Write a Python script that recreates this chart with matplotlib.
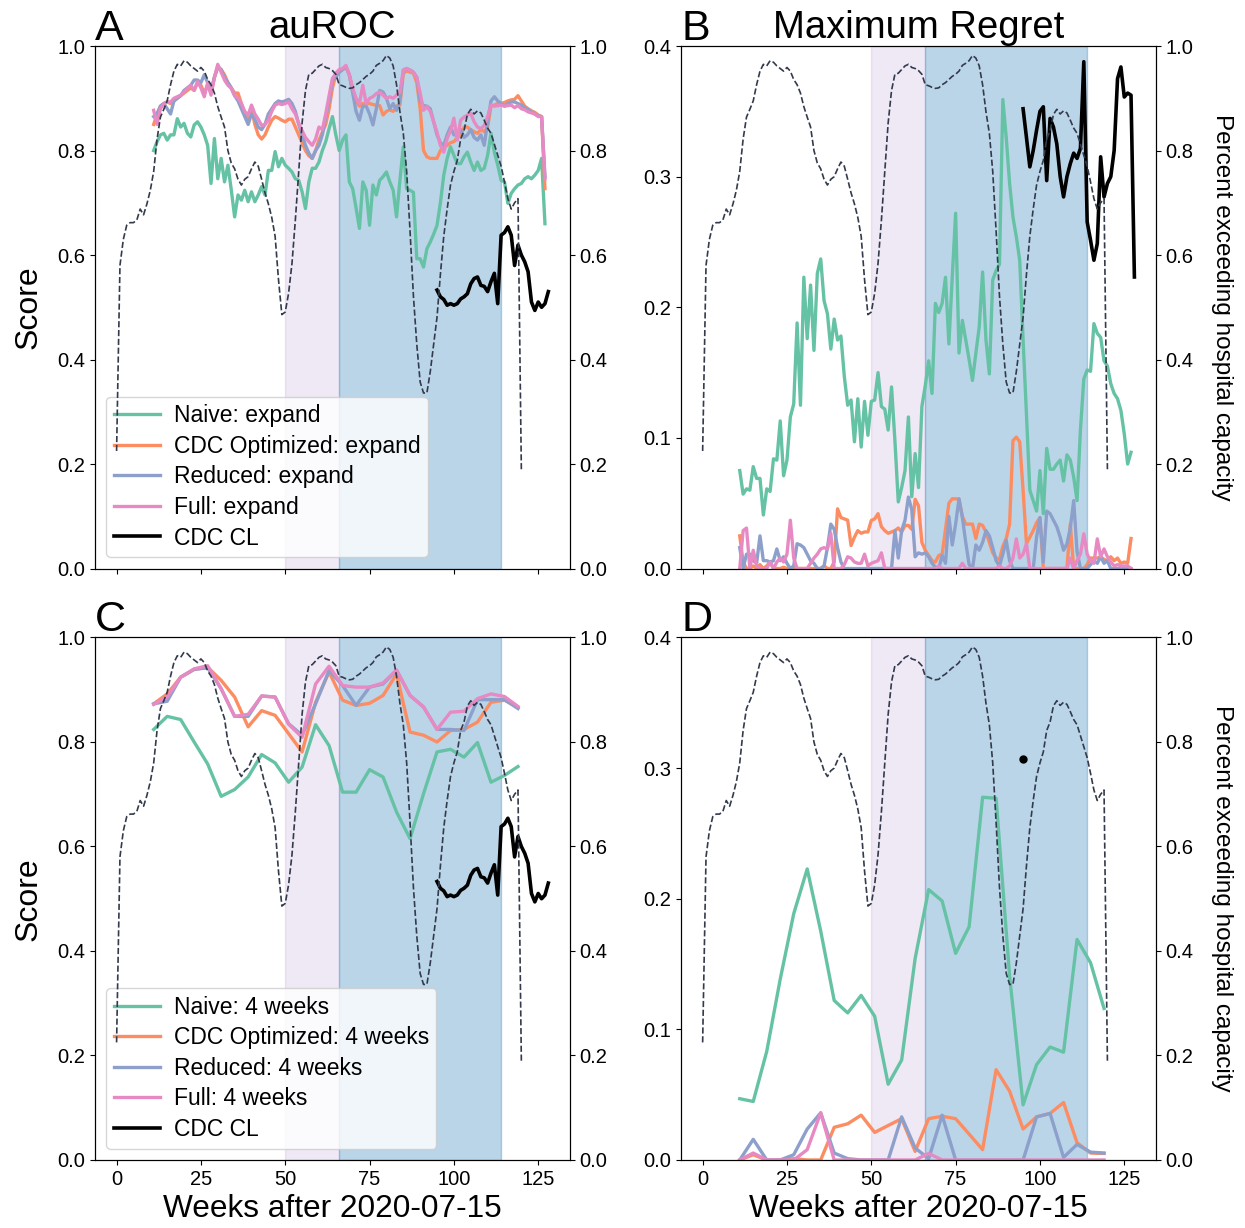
import matplotlib
matplotlib.use("Agg")
import matplotlib.pyplot as plt

plt.rcParams['font.family'] = ['Liberation Sans', 'DejaVu Sans']

# weeks after 2020-07-15
weeks_cap = list(range(0, 121))
weeks_expand = list(range(11, 128))
weeks_4wk = list(range(11, 120, 4))
weeks_cl = list(range(95, 129))

# fraction of places exceeding hospital capacity (right axis, same in all panels)
hosp_cap = [0.225, 0.58, 0.63, 0.657, 0.662, 0.662, 0.667, 0.688, 0.677, 0.698,
            0.724, 0.76, 0.822, 0.864, 0.879, 0.895, 0.926, 0.952, 0.965, 0.962,
            0.972, 0.969, 0.962, 0.957, 0.952, 0.959, 0.952, 0.936, 0.926, 0.91,
            0.884, 0.864, 0.845, 0.80, 0.776, 0.765, 0.745, 0.734, 0.745, 0.75,
            0.765, 0.778, 0.77, 0.745, 0.719, 0.698, 0.672, 0.636, 0.553, 0.486,
            0.491, 0.527, 0.584, 0.667, 0.76, 0.853, 0.915, 0.946, 0.948, 0.955,
            0.962, 0.965, 0.959, 0.957, 0.953, 0.946, 0.926, 0.924, 0.921, 0.919,
            0.92, 0.926, 0.93, 0.936, 0.942, 0.946, 0.952, 0.963, 0.967, 0.972,
            0.982, 0.977, 0.962, 0.926, 0.874, 0.833, 0.76, 0.646, 0.522, 0.429,
            0.357, 0.336, 0.336, 0.377, 0.429, 0.481, 0.563, 0.636, 0.688, 0.734,
            0.76, 0.781, 0.822, 0.838, 0.869, 0.879, 0.87, 0.876, 0.872, 0.858,
            0.843, 0.833, 0.812, 0.791, 0.77, 0.74, 0.708, 0.688, 0.70, 0.708,
            0.19]

# panel A: auROC, expanding window
naive_auroc_exp = [0.80, 0.817, 0.83, 0.833, 0.82, 0.83, 0.83, 0.861, 0.845, 0.852,
                   0.833, 0.826, 0.849, 0.855, 0.845, 0.83, 0.81, 0.737, 0.823, 0.746,
                   0.785, 0.74, 0.772, 0.725, 0.673, 0.715, 0.705, 0.724, 0.702, 0.721,
                   0.702, 0.715, 0.731, 0.715, 0.762, 0.762, 0.798, 0.769, 0.785, 0.772,
                   0.766, 0.759, 0.746, 0.743, 0.721, 0.689, 0.74, 0.766, 0.766, 0.778,
                   0.80, 0.817, 0.842, 0.865, 0.83, 0.80, 0.82, 0.83, 0.74, 0.727,
                   0.69, 0.651, 0.74, 0.724, 0.657, 0.734, 0.715, 0.743, 0.75, 0.759,
                   0.74, 0.724, 0.673, 0.743, 0.807, 0.727, 0.724, 0.72, 0.593, 0.593,
                   0.577, 0.612, 0.625, 0.64, 0.657, 0.70, 0.753, 0.785, 0.807, 0.791,
                   0.775, 0.775, 0.788, 0.797, 0.778, 0.762, 0.778, 0.762, 0.766, 0.791,
                   0.833, 0.797, 0.772, 0.743, 0.74, 0.699, 0.718, 0.727, 0.734, 0.737,
                   0.746, 0.75, 0.746, 0.753, 0.762, 0.785, 0.66]
cdcopt_auroc_exp = [0.85, 0.87, 0.885, 0.89, 0.893, 0.89, 0.895, 0.90, 0.905, 0.91,
                    0.915, 0.92, 0.915, 0.93, 0.925, 0.91, 0.925, 0.91, 0.94, 0.96,
                    0.955, 0.945, 0.93, 0.92, 0.91, 0.91, 0.89, 0.87, 0.86, 0.88,
                    0.85, 0.83, 0.822, 0.83, 0.845, 0.858, 0.865, 0.862, 0.858, 0.855,
                    0.86, 0.86, 0.845, 0.83, 0.815, 0.80, 0.79, 0.785, 0.80, 0.82,
                    0.835, 0.85, 0.88, 0.92, 0.945, 0.95, 0.955, 0.96, 0.945, 0.915,
                    0.895, 0.885, 0.89, 0.89, 0.89, 0.888, 0.887, 0.886, 0.868, 0.875,
                    0.878, 0.875, 0.885, 0.887, 0.948, 0.952, 0.95, 0.948, 0.93, 0.88,
                    0.80, 0.788, 0.785, 0.785, 0.785, 0.80, 0.807, 0.81, 0.815, 0.817,
                    0.825, 0.83, 0.845, 0.845, 0.84, 0.836, 0.833, 0.84, 0.836, 0.845,
                    0.885, 0.887, 0.89, 0.89, 0.892, 0.895, 0.897, 0.898, 0.905, 0.895,
                    0.885, 0.88, 0.876, 0.873, 0.868, 0.865, 0.727]
reduced_auroc_exp = [0.865, 0.87, 0.885, 0.89, 0.88, 0.87, 0.895, 0.90, 0.905, 0.915,
                     0.92, 0.925, 0.935, 0.935, 0.93, 0.945, 0.93, 0.915, 0.94, 0.96,
                     0.955, 0.94, 0.93, 0.92, 0.905, 0.895, 0.88, 0.865, 0.85, 0.87,
                     0.86, 0.845, 0.84, 0.85, 0.87, 0.88, 0.89, 0.895, 0.893, 0.895,
                     0.898, 0.89, 0.875, 0.85, 0.83, 0.81, 0.795, 0.785, 0.80, 0.81,
                     0.83, 0.865, 0.895, 0.935, 0.94, 0.95, 0.955, 0.96, 0.945, 0.91,
                     0.875, 0.858, 0.885, 0.885, 0.87, 0.849, 0.88, 0.915, 0.912, 0.90,
                     0.88, 0.89, 0.877, 0.895, 0.954, 0.957, 0.954, 0.95, 0.94, 0.895,
                     0.886, 0.885, 0.88, 0.855, 0.83, 0.815, 0.81, 0.83, 0.845, 0.83,
                     0.83, 0.84, 0.825, 0.83, 0.84, 0.825, 0.82, 0.83, 0.81, 0.855,
                     0.895, 0.903, 0.895, 0.89, 0.885, 0.89, 0.893, 0.893, 0.89, 0.887,
                     0.882, 0.878, 0.874, 0.87, 0.866, 0.865, 0.75]
full_auroc_exp = [0.877, 0.85, 0.88, 0.89, 0.893, 0.893, 0.90, 0.903, 0.906, 0.912,
                  0.919, 0.925, 0.915, 0.932, 0.92, 0.903, 0.93, 0.906, 0.94, 0.965,
                  0.95, 0.935, 0.925, 0.919, 0.905, 0.90, 0.89, 0.875, 0.868, 0.887,
                  0.87, 0.86, 0.848, 0.85, 0.858, 0.875, 0.887, 0.89, 0.888, 0.89,
                  0.893, 0.88, 0.87, 0.852, 0.838, 0.825, 0.817, 0.81, 0.822, 0.845,
                  0.84, 0.87, 0.905, 0.938, 0.948, 0.955, 0.957, 0.963, 0.945, 0.92,
                  0.90, 0.89, 0.925, 0.89, 0.90, 0.903, 0.909, 0.912, 0.906, 0.90,
                  0.903, 0.90, 0.906, 0.912, 0.954, 0.957, 0.954, 0.95, 0.94, 0.91,
                  0.877, 0.884, 0.875, 0.855, 0.835, 0.81, 0.797, 0.823, 0.838, 0.862,
                  0.82, 0.858, 0.864, 0.868, 0.871, 0.855, 0.845, 0.842, 0.848, 0.865,
                  0.887, 0.885, 0.886, 0.887, 0.885, 0.886, 0.887, 0.882, 0.886, 0.88,
                  0.878, 0.874, 0.872, 0.87, 0.865, 0.865, 0.746]
cdc_cl_auroc = [0.533, 0.52, 0.515, 0.504, 0.507, 0.504, 0.507, 0.516, 0.52, 0.526,
                0.545, 0.555, 0.558, 0.542, 0.54, 0.53, 0.549, 0.565, 0.507, 0.638,
                0.643, 0.654, 0.638, 0.58, 0.619, 0.60, 0.587, 0.568, 0.51, 0.494,
                0.51, 0.50, 0.507, 0.53]

# panel B: maximum regret, expanding window
naive_regret_exp = [0.075, 0.057, 0.061, 0.060, 0.078, 0.069, 0.069, 0.041, 0.061, 0.059,
                    0.084, 0.083, 0.113, 0.071, 0.083, 0.116, 0.126, 0.188, 0.125, 0.223,
                    0.176, 0.217, 0.167, 0.226, 0.237, 0.205, 0.195, 0.168, 0.191, 0.175,
                    0.178, 0.147, 0.125, 0.129, 0.097, 0.130, 0.093, 0.128, 0.102, 0.128,
                    0.129, 0.150, 0.124, 0.122, 0.106, 0.139, 0.098, 0.051, 0.062, 0.075,
                    0.116, 0.055, 0.088, 0.062, 0.124, 0.14, 0.159, 0.134, 0.203, 0.196,
                    0.203, 0.223, 0.172, 0.223, 0.272, 0.165, 0.19, 0.175, 0.16, 0.144,
                    0.165, 0.185, 0.227, 0.175, 0.149, 0.221, 0.228, 0.233, 0.359, 0.33,
                    0.295, 0.269, 0.254, 0.236, 0.175, 0.118, 0.060, 0.052, 0.044, 0.075,
                    0.042, 0.092, 0.076, 0.076, 0.080, 0.083, 0.067, 0.087, 0.083, 0.070,
                    0.052, 0.106, 0.145, 0.152, 0.151, 0.1875, 0.18, 0.177, 0.159, 0.155,
                    0.1415, 0.134, 0.13, 0.121, 0.103, 0.08, 0.089]
cdcopt_regret_exp = [0.025, 0.005, 0.0, 0.0, 0.002, 0.0, 0.003, 0.0, 0.002, 0.005,
                     0.0, 0.0, 0.0, 0.001, 0.0, 0.0, 0.0, 0.0, 0.0, 0.0,
                     0.0, 0.0, 0.0, 0.0, 0.0, 0.002, 0.0, 0.0, 0.005, 0.0457,
                     0.039, 0.038, 0.037, 0.0176, 0.024, 0.029, 0.027, 0.028, 0.028, 0.0368,
                     0.038, 0.042, 0.032, 0.029, 0.027, 0.028, 0.029, 0.031, 0.028, 0.033,
                     0.033, 0.03, 0.053, 0.048, 0.02, 0.014, 0.01, 0.006, 0.005, 0.01,
                     0.011, 0.03, 0.05, 0.0534, 0.0534, 0.053, 0.04, 0.034, 0.034, 0.034,
                     0.023, 0.034, 0.033, 0.028, 0.02, 0.012, 0.008, 0.007, 0.017, 0.023,
                     0.034, 0.098, 0.1006, 0.097, 0.06, 0.019, 0.024, 0.029, 0.035, 0.039,
                     0.0, 0.0, 0.0, 0.0, 0.0, 0.0, 0.0, 0.0, 0.034, 0.0,
                     0.0, 0.0, 0.0, 0.003, 0.008, 0.008, 0.008, 0.009, 0.007, 0.006,
                     0.009, 0.006, 0.008, 0.004, 0.005, 0.004, 0.023]
reduced_regret_exp = [0.016, 0.0, 0.011, 0.011, 0.006, 0.004, 0.025, 0.006, 0.006, 0.005,
                      0.006, 0.015, 0.006, 0.009, 0.004, 0.0, 0.002, 0.019, 0.018, 0.016,
                      0.011, 0.006, 0.004, 0.0, 0.0, 0.002, 0.016, 0.034, 0.03, 0.016,
                      0.005, 0.0, 0.0, 0.0, 0.0, 0.0, 0.0, 0.0, 0.0, 0.0,
                      0.0, 0.0, 0.0, 0.0, 0.0, 0.0, 0.029, 0.008, 0.029, 0.037,
                      0.0547, 0.045, 0.009, 0.012, 0.011, 0.012, 0.009, 0.004, 0.001, 0.0,
                      0.01, 0.004, 0.04, 0.018, 0.034, 0.0534, 0.039, 0.02, 0.003, 0.0,
                      0.018, 0.014, 0.02, 0.029, 0.025, 0.016, 0.006, 0.002, 0.011, 0.0215,
                      0.006, 0.0, 0.0, 0.0, 0.0, 0.0, 0.0, 0.0, 0.024, 0.039,
                      0.005, 0.044, 0.042, 0.037, 0.032, 0.024, 0.014, 0.019, 0.031, 0.052,
                      0.013, 0.0, 0.0, 0.0, 0.003, 0.006, 0.004, 0.009, 0.004, 0.006,
                      0.0, 0.0, 0.0, 0.0, 0.0, 0.0, 0.0]
full_regret_exp = [0.0, 0.029, 0.031, 0.0, 0.014, 0.002, 0.0, 0.0, 0.0, 0.005,
                   0.0, 0.005, 0.008, 0.005, 0.011, 0.037, 0.008, 0.0, 0.0, 0.0,
                   0.0, 0.004, 0.008, 0.011, 0.015, 0.016, 0.015, 0.027, 0.0, 0.0,
                   0.0, 0.003, 0.009, 0.008, 0.005, 0.004, 0.004, 0.011, 0.002, 0.004,
                   0.005, 0.006, 0.012, 0.0, 0.0, 0.0, 0.0, 0.0, 0.0, 0.0,
                   0.0, 0.0, 0.0, 0.0, 0.0, 0.0, 0.0, 0.0, 0.0, 0.002,
                   0.0, 0.0, 0.0, 0.0, 0.0, 0.0, 0.004, 0.0, 0.0, 0.0,
                   0.0, 0.0, 0.0, 0.0, 0.0, 0.0, 0.0, 0.002, 0.0, 0.0,
                   0.002, 0.008, 0.0227, 0.008, 0.011, 0.019, 0.0, 0.0, 0.0, 0.0,
                   0.0, 0.0, 0.0, 0.0, 0.0, 0.0, 0.0, 0.0, 0.008, 0.0,
                   0.006, 0.011, 0.0266, 0.011, 0.006, 0.004, 0.0227, 0.009, 0.015, 0.009,
                   0.005, 0.002, 0.003, 0.002, 0.002, 0.002, 0.0]
cdc_cl_regret = [0.352, 0.33, 0.3075, 0.32, 0.3356, 0.35, 0.3535, 0.297, 0.3446, 0.338,
                 0.325, 0.30, 0.2845, 0.30, 0.31, 0.318, 0.314, 0.3216, 0.388, 0.2654,
                 0.2513, 0.236, 0.2488, 0.3152, 0.2845, 0.2948, 0.30, 0.32, 0.375, 0.384,
                 0.361, 0.364, 0.3624, 0.2232]

# panel C: auROC, 4-week window
naive_auroc_4wk = [0.824, 0.849, 0.843, 0.80, 0.758, 0.696, 0.709, 0.733, 0.776, 0.76,
                   0.723, 0.752, 0.833, 0.793, 0.704, 0.704, 0.747, 0.733, 0.666, 0.615,
                   0.701, 0.781, 0.786, 0.771, 0.799, 0.723, 0.736, 0.753]
cdcopt_auroc_4wk = [0.873, 0.892, 0.924, 0.939, 0.943, 0.918, 0.886, 0.829, 0.86, 0.851,
                    0.816, 0.781, 0.876, 0.934, 0.88, 0.87, 0.874, 0.889, 0.93, 0.819,
                    0.813, 0.80, 0.822, 0.824, 0.838, 0.876, 0.88, 0.866]
reduced_auroc_4wk = [0.873, 0.878, 0.924, 0.939, 0.942, 0.902, 0.849, 0.849, 0.888, 0.886,
                     0.835, 0.813, 0.873, 0.937, 0.908, 0.87, 0.905, 0.911, 0.937, 0.889,
                     0.867, 0.824, 0.824, 0.822, 0.881, 0.881, 0.881, 0.864]
full_auroc_4wk = [0.872, 0.886, 0.924, 0.94, 0.946, 0.902, 0.849, 0.853, 0.888, 0.886,
                  0.834, 0.809, 0.911, 0.945, 0.908, 0.905, 0.905, 0.913, 0.938, 0.889,
                  0.867, 0.824, 0.857, 0.859, 0.883, 0.892, 0.887, 0.868]

# panel D: maximum regret, 4-week window
naive_regret_4wk = [0.0469, 0.0448, 0.0831, 0.1384, 0.1885, 0.2228, 0.1753, 0.1221, 0.1126, 0.126,
                    0.110, 0.058, 0.0765, 0.1543, 0.207, 0.1983, 0.1582, 0.1785, 0.2777, 0.2769,
                    0.141, 0.0422, 0.073, 0.0865, 0.0825, 0.1688, 0.151, 0.116]
cdcopt_regret_4wk = [0.0, 0.004, 0.0, 0.0, 0.001, 0.0, 0.0, 0.025, 0.0277, 0.0343,
                     0.0211, 0.0264, 0.0316, 0.0066, 0.0316, 0.0335, 0.0316, 0.0198, 0.0079, 0.0691,
                     0.0527, 0.0237, 0.033, 0.0356, 0.044, 0.0132, 0.0053, 0.005]
reduced_regret_4wk = [0.0, 0.0158, 0.0, 0.0, 0.004, 0.0237, 0.0361, 0.0053, 0.001, 0.0,
                      0.0, 0.0, 0.033, 0.0092, 0.001, 0.0343, 0.0, 0.0, 0.0, 0.0,
                      0.0, 0.0, 0.033, 0.0356, 0.002, 0.0119, 0.006, 0.0053]
full_regret_4wk = [0.0, 0.0053, 0.0, 0.0, 0.0, 0.0079, 0.0361, 0.0, 0.0, 0.0,
                   0.0, 0.0, 0.0, 0.0, 0.005, 0.0, 0.0, 0.0, 0.0, 0.0,
                   0.0, 0.0, 0.0, 0.0, 0.0, 0.0, 0.0, 0.0]
cdc_cl_week_4wk = [95]
cdc_cl_regret_4wk = [0.307]

model_names = ["Naive", "CDC Optimized", "Reduced", "Full"]
colors = ["#66c2a5", "#fc8d62", "#8da0cb", "#e78ac3"]
cap_color = "#323a4c"


def draw_panel(ax, x, series, x_cl, y_cl, ymax, suffix, cl_dot=False):
    ax.axvspan(50, 66, color="tab:purple", alpha=0.15)
    ax.axvspan(66, 114, color="tab:blue", alpha=0.3)
    for y, name, c in zip(series, model_names, colors):
        ax.plot(x, y, color=c, lw=2.4, label=f"{name}: {suffix}")
    if cl_dot:
        ax.plot(x_cl, y_cl, "o", color="k", ms=5, label="CDC CL")
    else:
        ax.plot(x_cl, y_cl, color="k", lw=2.6, label="CDC CL")
    ax.set_ylim(0, ymax)
    if ymax < 1:
        ax.set_yticks([0.0, 0.1, 0.2, 0.3, 0.4])
    ax.set_xlim(-6.4, 134.4)
    ax.tick_params(labelsize=14.5)
    ax2 = ax.twinx()
    ax2.plot(weeks_cap, hosp_cap, "--", color=cap_color, lw=1.2)
    ax2.set_ylim(0, 1)
    ax2.set_xlim(-6.4, 134.4)
    ax2.tick_params(labelsize=14.5)
    return ax2


fig, axes = plt.subplots(2, 2, figsize=(12.45, 12.28), dpi=100, sharex=True)
plt.subplots_adjust(left=0.0763, right=0.9285, top=0.9625, bottom=0.0554,
                    wspace=0.234, hspace=0.132)
axA, axB = axes[0]
axC, axD = axes[1]

draw_panel(axA, weeks_expand,
           [naive_auroc_exp, cdcopt_auroc_exp, reduced_auroc_exp, full_auroc_exp],
           weeks_cl, cdc_cl_auroc, 1.0, "expand")
axB2 = draw_panel(axB, weeks_expand,
                  [naive_regret_exp, cdcopt_regret_exp, reduced_regret_exp, full_regret_exp],
                  weeks_cl, cdc_cl_regret, 0.4, "expand")
draw_panel(axC, weeks_4wk,
           [naive_auroc_4wk, cdcopt_auroc_4wk, reduced_auroc_4wk, full_auroc_4wk],
           weeks_cl, cdc_cl_auroc, 1.0, "4 weeks")
axD2 = draw_panel(axD, weeks_4wk,
                  [naive_regret_4wk, cdcopt_regret_4wk, reduced_regret_4wk, full_regret_4wk],
                  cdc_cl_week_4wk, cdc_cl_regret_4wk, 0.4, "4 weeks", cl_dot=True)

for ax in (axA, axC):
    ax.legend(loc="lower left", fontsize=16.5, labelspacing=0.33, borderpad=0.33,
              handletextpad=0.6)
    ax.set_ylabel("Score", fontsize=23, labelpad=10)

for ax2 in (axB2, axD2):
    ax2.set_ylabel("Percent exceeding hospital capacity", fontsize=17.5,
                   rotation=270, labelpad=28)

for ax in (axC, axD):
    ax.set_xlabel("Weeks after 2020-07-15", fontsize=22.8)
    ax.set_xticks([0, 25, 50, 75, 100, 125])

axA.set_title("auROC", fontsize=27.5)
axB.set_title("Maximum Regret", fontsize=27.5)

for ax, letter in zip([axA, axB, axC, axD], "ABCD"):
    ax.text(0.0, 1.012, letter, transform=ax.transAxes, fontsize=31,
            ha="left", va="baseline")

fig.savefig("out.png", dpi=100)
